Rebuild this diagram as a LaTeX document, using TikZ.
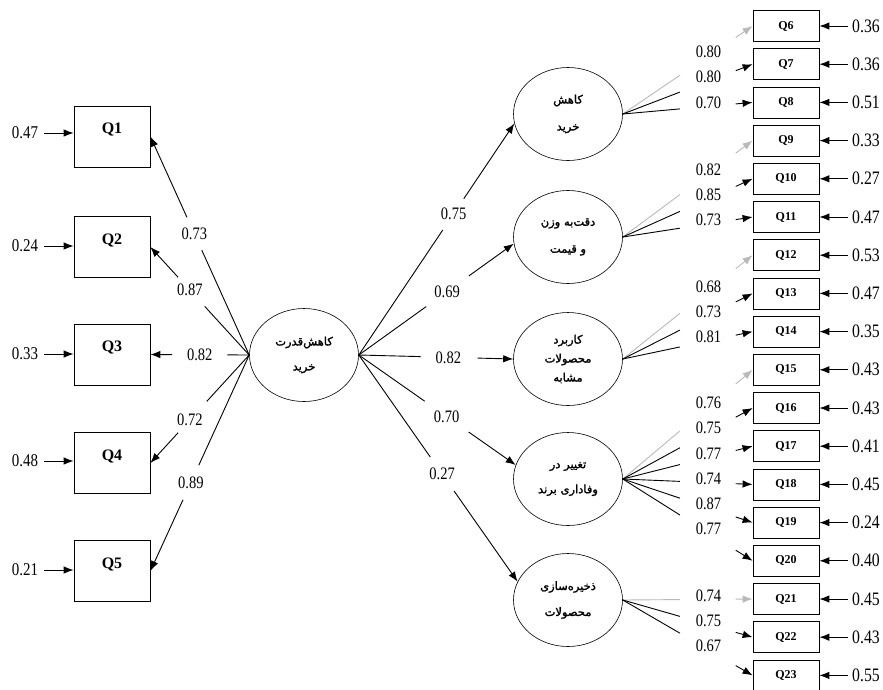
\documentclass[tikz,border=0pt]{standalone}
\usepackage{fontspec}
\setmainfont{Liberation Serif}
\newfontfamily\numfont{Liberation Serif}[FakeStretch=0.83]
\newfontfamily\arabicfont[Script=Arabic,FakeBold=1.6]{DejaVu Sans}
\TeXXeTstate=1
\usepackage{tikz}
\usetikzlibrary{calc}
\usetikzlibrary{arrows.meta}
\usetikzlibrary{shapes.geometric}
\newcommand{\fatext}[1]{\beginR #1\endR}
\colorlet{fixcol}{gray!55}
\tikzset{
  qbox/.style={draw, line width=.8pt, minimum width=76pt, minimum height=61pt, inner sep=0pt,
    font=\bfseries\fontsize{16}{18}\selectfont, text height=11pt, text depth=17pt},
  obox/.style={draw, line width=.8pt, minimum width=66pt, minimum height=31pt, inner sep=0pt,
    font=\bfseries\fontsize{12}{13}\selectfont},
  latent/.style={ellipse, draw, line width=.6pt, minimum width=109pt, minimum height=93pt,
    inner sep=0pt, align=center, font=\arabicfont\fontsize{11.5}{27}\selectfont},
  loadlbl/.style={font=\numfont\fontsize{17.5}{19}\selectfont, inner sep=1pt},
  errlbl/.style={font=\numfont\fontsize{18}{20}\selectfont, inner sep=6pt},
  rerrlbl/.style={font=\numfont\fontsize{19}{21}\selectfont, inner sep=4pt},
  lnk/.style={line width=.9pt},
  arr/.style={line width=.9pt, -{Latex[length=10pt,width=7.5pt]}}
}

\begin{document}
\begin{tikzpicture}[x=1pt,y=-1pt]
\useasboundingbox (0,0) rectangle (883,689);
% observed items, left
\foreach \i/\y in {1/136.5,2/247,3/354.5,4/463,5/571} {
  \node[qbox] (Q\i) at (112,\y) {Q\i};
}
\foreach \i/\y/\e in {1/133/0.47, 2/246/0.24, 3/354/0.33, 4/461/0.48, 5/570/0.21} {
  \node[errlbl] (e\i) at (25,\y) {\e};
  \draw[arr] (e\i.east) -- (e\i.east -| Q\i.west);
}
% latent variables
\node[latent, font=\arabicfont\fontsize{11.5}{25}\selectfont] (C) at (304,355) {\fatext{کاهش‌قدرت}\\\fatext{خرید}};
\node[latent] (F1) at (568,114) {\fatext{کاهش}\\\fatext{خرید}};
\node[latent] (F2) at (568,237) {\fatext{دقت‌به وزن}\\\fatext{و قیمت}};
\node[latent, font=\arabicfont\fontsize{11.5}{19}\selectfont] (F3) at (568,359) {\fatext{کاربرد}\\\fatext{محصولات}\\\fatext{مشابه}};
\node[latent, font=\arabicfont\fontsize{11.5}{25}\selectfont] (F4) at (568,479) {\fatext{تغییر در}\\\fatext{وفاداری برند}};
\node[latent, font=\arabicfont\fontsize{11.5}{26}\selectfont] (F5) at (568,600) {\fatext{ذخیره‌سازی}\\\fatext{محصولات}};
% observed items, right
\foreach \i [evaluate=\i as \y using 26+38.2*(\i-6)] in {6,...,23} {
  \node[obox] (Q\i) at (786,\y) {Q\i};
}
\foreach \i/\e in {6/0.36,7/0.36,8/0.51,9/0.33,10/0.27,11/0.47,12/0.53,13/0.47,14/0.35,
                   15/0.43,16/0.43,17/0.41,18/0.45,19/0.24,20/0.40,21/0.45,22/0.43,23/0.55} {
  \node[rerrlbl] (e\i) at ($(Q\i)+(80,0)$) {\e};
  \draw[arr] (e\i.west) -- (Q\i.east);
}
% loadings on the left
\foreach \i/\a/\b/\m/\l in {1/.48/.63/.555/0.73, 2/.45/.72/.6/0.87, 3/.22/.78/.5/0.82,
                            4/.43/.72/.6/0.72, 5/.51/.67/.59/0.89} {
  \draw[lnk] (C.west) -- ($(C.west)!\a!(Q\i.east)$);
  \draw[arr] ($(C.west)!\b!(Q\i.east)$) -- (Q\i.east);
  \node[loadlbl] (m\i) at ($(C.west)!\m!(Q\i.east)$) {\l};
}
% paths to the five factors
\foreach \f/\an/\a/\b/\m/\l in {1/190/.54/.675/.61/0.75, 2/187/.435/.71/.57/0.69, 3/180/.40/.77/.58/0.82,
                                4/165/.42/.70/.56/0.70, 5/160/.45/.60/.525/0.27} {
  \draw[lnk] (C.east) -- ($(C.east)!\a!(F\f.\an)$);
  \draw[arr] ($(C.east)!\b!(F\f.\an)$) -- (F\f.\an);
  \node[loadlbl] (k\f) at ($(C.east)!\m!(F\f.\an)$) {\l};
}
% loadings on the right, first item of each factor in gray
\foreach \f/\i/\l/\c in {1/6/0.80/fixcol, 1/7/0.80/black, 1/8/0.70/black,
                         2/9/0.82/fixcol, 2/10/0.85/black, 2/11/0.73/black,
                         3/12/0.68/fixcol, 3/13/0.73/black, 3/14/0.81/black,
                         4/15/0.76/fixcol, 4/16/0.75/black, 4/17/0.77/black,
                         4/18/0.74/black, 4/19/0.87/black, 4/20/0.77/black,
                         5/21/0.74/fixcol, 5/22/0.75/black, 5/23/0.67/black} {
  \draw[lnk,draw=\c] (F\f.east) -- ($(F\f.east)!.44!(Q\i.west)$);
  \draw[arr,draw=\c] ($(F\f.east)!.87!(Q\i.west)$) -- (Q\i.west);
  \node[loadlbl] (l\i) at ($(F\f.east)!.66!(Q\i.west)$) [yshift=4pt] {\l};
}
\end{tikzpicture}
\end{document}
